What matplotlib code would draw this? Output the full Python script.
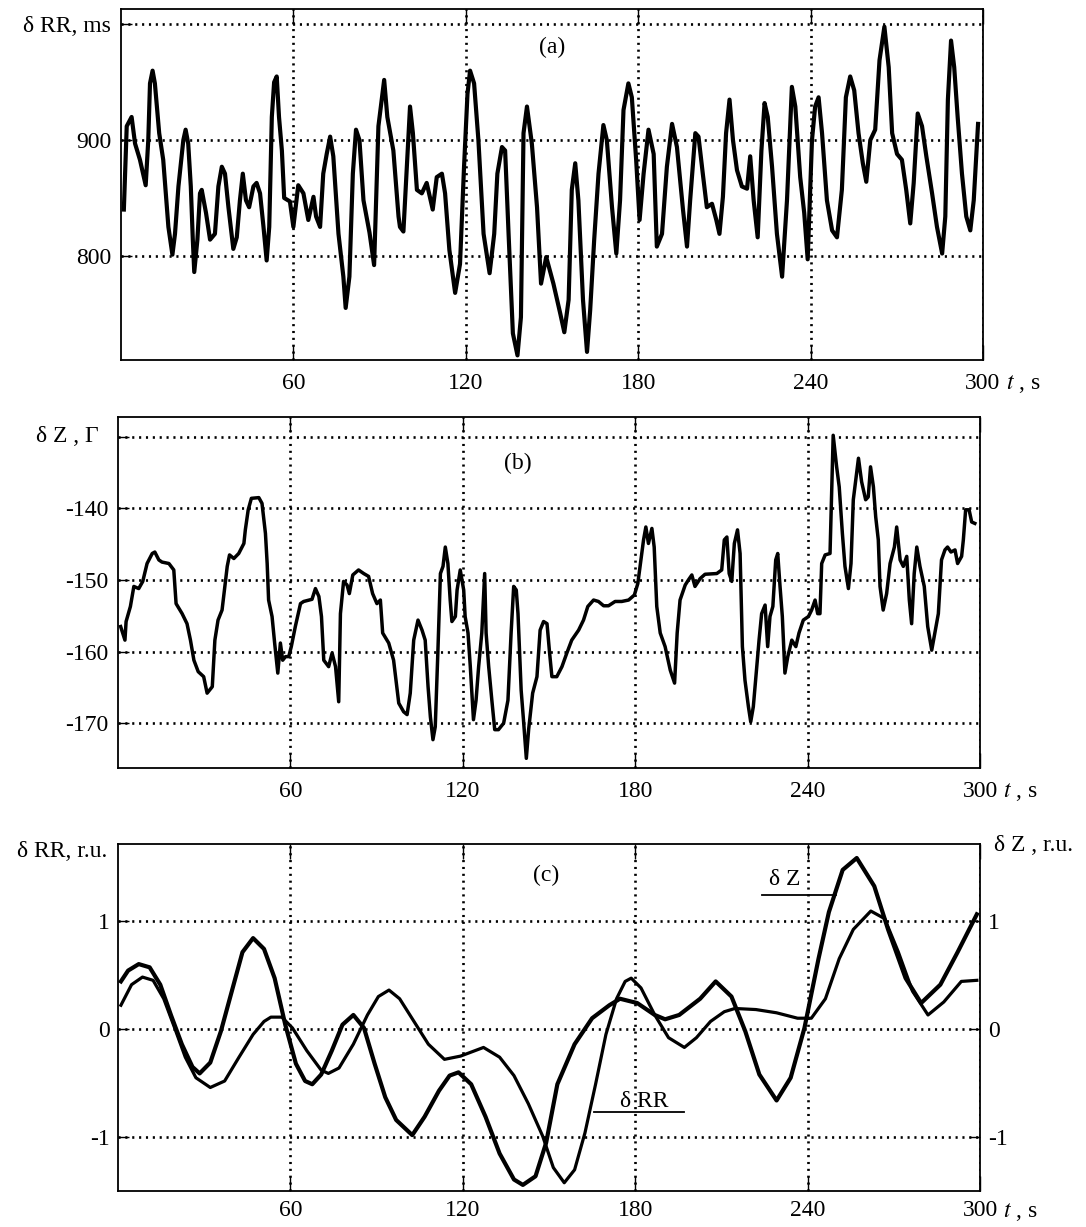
import matplotlib
matplotlib.use('Agg')
import matplotlib.pyplot as plt
import numpy as np

# ---------------------------------------------------------------- data
# (a) RR intervals, ms
rr_t = [1.0, 2.0, 3.7, 4.9, 6.6, 8.6, 9.5, 10.1, 11.0, 11.8, 13.3, 14.7, 16.5, 17.9, 18.8, 20.0, 21.7, 22.5,
        23.4, 24.3, 25.0, 25.5, 26.6, 27.5, 28.1, 29.6, 31.0, 32.7, 33.9, 35.1, 36.2, 37.4, 39.1, 40.3, 41.4,
        42.4, 43.5, 44.6, 46.1, 47.2, 48.4, 49.6, 50.7, 51.6, 52.5, 53.3, 54.2, 55.0, 56.0, 56.8, 58.8, 60.0,
        61.7, 63.5, 65.2, 67.0, 67.9, 69.3, 70.4, 71.6, 72.8, 73.9, 75.7, 77.4, 78.2, 79.5, 80.7, 81.8, 83.0,
        84.4, 86.5, 88.1, 89.6, 91.6, 92.7, 94.8, 96.6, 97.1, 98.3, 99.5, 100.6, 101.6, 103.0, 104.7, 106.4,
        108.5, 109.9, 111.7, 112.8, 114.3, 116.3, 118.0, 119.4, 120.6, 121.5, 122.9, 124.4, 126.2, 128.3,
        129.9, 131.0, 132.6, 133.7, 134.9, 136.4, 138.0, 139.2, 140.1, 141.3, 143.0, 144.8, 146.2, 148.0,
        150.5, 152.9, 154.3, 155.8, 156.9, 158.1, 159.2, 160.8, 162.2, 163.3, 164.7, 166.2, 167.9, 169.1,
        170.9, 172.4, 173.7, 174.9, 176.6, 177.8, 179.3, 180.5, 181.9, 183.6, 185.4, 186.5, 188.3, 190.0,
        191.8, 193.5, 195.6, 197.0, 198.1, 199.9, 201.0, 202.5, 203.9, 205.7, 207.2, 208.3, 209.5, 210.6,
        211.8, 213.0, 214.4, 216.1, 217.9, 219.0, 220.2, 221.6, 222.9, 224.0, 225.1, 226.6, 228.3, 230.1,
        231.8, 233.5, 234.7, 236.4, 237.8, 239.0, 240.5, 241.6, 242.8, 244.0, 245.7, 247.5, 249.2, 250.9,
        252.3, 253.8, 255.2, 256.7, 258.2, 259.4, 260.8, 262.5, 264.0, 265.7, 267.2, 268.4, 270.1, 271.8,
        273.3, 274.7, 275.9, 277.3, 278.8, 280.3, 282.3, 284.0, 285.8, 286.9, 287.8, 288.9, 290.0, 291.2,
        292.7, 294.2, 295.6, 296.8, 298.3]
rr_v = [840, 912, 920, 897, 883, 861, 900, 949, 960, 949, 906, 883, 825, 801, 819, 860, 900, 909,
        897, 860, 814, 786, 814, 854, 857, 837, 814, 819, 860, 877, 871, 842, 806, 816, 848,
        871, 848, 842, 860, 863, 854, 825, 796, 825, 920, 950, 955, 920, 891, 850, 847, 825,
        861, 854, 831, 851, 834, 825, 871, 888, 903, 886, 819, 782, 755, 782, 871, 909, 900,
        848, 820, 792, 912, 952, 920, 891, 834, 825, 821, 877, 929, 906, 857, 854, 863,
        840, 868, 871, 854, 805, 768, 793, 877, 940, 960, 949, 900, 819, 785,
        819, 871, 894, 891, 819, 733, 714, 747, 906, 929, 897, 842, 776, 799,
        776, 750, 734, 762, 857, 880, 848, 762, 717, 753, 814, 871, 913, 900,
        842, 802, 848, 926, 949, 937, 883, 831, 871, 909, 888, 808, 819, 877,
        914, 894, 840, 808, 848, 906, 903, 871, 842, 845, 831, 819, 851, 906,
        935, 900, 874, 860, 858, 886, 848, 816, 891, 932, 920, 877, 819, 782,
        848, 946, 929, 868, 837, 797, 900, 929, 937, 906, 848, 822, 816, 857,
        937, 955, 943, 906, 880, 864, 900, 909, 969, 998, 963, 906, 888, 883,
        857, 828, 863, 923, 912, 886, 854, 825, 802, 834, 935, 986, 963, 920,
        871, 834, 822, 848, 914]

# (b) Z, arbitrary units
z_t = [0.9, 2.4, 2.8, 4.3, 5.5, 7.2, 8.6, 10.1, 11.9, 12.8, 14.2, 15.3, 17.7, 19.4, 20.2, 22.3, 24.0,
       25.2, 26.4, 27.9, 29.8, 31.0, 32.8, 33.7, 34.8, 36.2, 38.0, 38.8, 40.3, 42.0, 43.8, 44.3, 45.3,
       46.4, 49.0, 50.1, 51.3, 51.9, 52.4, 53.6, 54.5, 55.6, 56.5, 57.3, 58.3, 59.4, 60.3, 61.7, 63.5,
       64.6, 67.5, 68.7, 69.9, 70.8, 71.6, 73.3, 74.5, 75.7, 76.8, 77.4, 78.5, 79.7, 80.5, 81.7, 83.7,
       85.5, 87.2, 88.6, 90.1, 91.3, 92.1, 94.2, 95.9, 97.7, 99.4, 100.6, 101.7, 102.9, 104.4, 105.8,
       106.9, 107.9, 108.7, 109.6, 110.4, 111.3, 112.2, 113.1, 113.9, 114.8, 115.6, 116.2, 117.4, 118.0,
       119.1, 120.3, 120.8, 121.8, 122.6, 123.7, 124.6, 125.5, 126.6, 127.6, 128.1, 129.0, 130.1, 131.1,
       132.4, 134.2, 135.7, 136.8, 137.7, 138.6, 139.2, 140.3, 141.1, 142.1, 142.9, 144.3, 145.8, 146.9,
       148.1, 149.3, 150.2, 151.0, 152.7, 154.5, 156.2, 157.9, 160.3, 162.0, 163.5, 165.5, 167.2, 169.0,
       170.7, 173.0, 175.3, 177.7, 179.7, 180.9, 181.7, 182.9, 183.7, 184.6, 185.8, 186.6, 187.5, 188.7,
       190.4, 192.2, 193.7, 194.6, 195.6, 197.4, 198.5, 199.7, 200.8, 202.6, 204.3, 208.4, 210.1, 211.0,
       211.9, 212.7, 213.6, 214.5, 215.6, 216.5, 217.3, 218.2, 219.4, 220.2, 221.1, 222.3, 223.1, 224.0,
       225.2, 226.1, 226.9, 227.9, 228.9, 229.6, 230.4, 231.2, 232.1, 233.1, 234.5, 235.9, 237.0, 238.5,
       240.3, 241.4, 242.6, 243.5, 244.3, 244.9, 246.1, 247.8, 248.6, 248.9, 250.1, 251.0, 252.1, 253.0,
       254.2, 255.1, 255.9, 257.7, 258.8, 260.2, 261.1, 261.9, 262.9, 263.7, 264.6, 265.2, 266.3, 267.5,
       268.7, 270.2, 271.0, 272.2, 273.3, 274.5, 275.4, 276.2, 277.1, 278.0, 279.1, 280.6, 281.8, 283.2,
       284.3, 285.5, 286.6, 287.8, 288.7, 289.9, 291.3, 292.2, 293.6, 294.2, 295.0, 296.2, 297.1, 298.2]
z_v = [-156.5, -158.4, -155.8, -153.7, -150.9, -151.2, -150.2, -147.7, -146.3, -146.1, -147.2, -147.5,
       -147.7, -148.6, -153.3, -154.7, -156.1, -158.4, -161.2, -162.8, -163.5, -165.8, -164.9, -158.4,
       -155.6, -154.2, -148.1, -146.5, -147.0, -146.3, -144.9, -143.0, -140.2, -138.6, -138.5, -139.3,
       -143.5, -147.7, -152.8, -155.1, -158.8, -163.0, -158.8, -161.2, -160.7, -160.7, -159.3, -156.5,
       -153.3, -153.0, -152.7, -151.2, -152.3, -155.1, -161.2, -162.1, -160.2, -162.1, -167.0, -154.7,
       -150.2, -150.7, -151.9, -149.3, -148.6, -149.1, -149.5, -151.9, -153.3, -152.8, -157.4, -158.8,
       -161.2, -167.2, -168.4, -168.8, -165.8, -158.4, -155.6, -157.0, -158.4, -164.9, -169.1, -172.3,
       -170.5, -160.2, -149.1, -148.1, -145.4, -147.7, -152.8, -155.8, -155.1, -151.4, -148.6, -151.4,
       -155.1, -157.4, -162.1, -169.5, -166.8, -162.1, -157.4, -149.1, -157.4, -162.1, -166.8, -170.9,
       -170.9, -170.0, -166.8, -157.4, -150.9, -151.4, -154.7, -165.4, -169.5, -174.9, -170.9, -165.8,
       -163.5, -157.0, -155.8, -156.1, -160.2, -163.5, -163.5, -162.1, -160.2, -158.4, -157.0, -155.6,
       -153.7, -152.8, -153.0, -153.6, -153.6, -153.0, -153.0, -152.8, -152.1, -150.5, -148.1, -144.4,
       -142.6, -144.9, -142.8, -145.4, -153.7, -157.4, -159.3, -162.6, -164.4, -157.4, -152.8, -150.7,
       -150.0, -149.3, -150.9, -149.8, -149.2, -149.1, -148.6, -144.4, -144.0, -149.1, -150.2, -144.9,
       -143.0, -146.3, -159.3, -164.0, -167.7, -169.8, -167.7, -162.1, -158.4, -154.7, -153.5, -159.3,
       -155.1, -153.7, -147.2, -146.3, -150.9, -155.1, -163.0, -160.7, -158.4, -159.3, -157.4, -155.6,
       -155.1, -154.2, -152.8, -154.7, -154.7, -147.7, -146.5, -146.3, -134.2, -129.8, -134.2, -137.0,
       -143.5, -148.1, -151.2, -147.7, -138.8, -133.0, -136.3, -138.8, -138.4, -134.2, -137.0, -141.2,
       -144.4, -150.9, -154.2, -151.9, -147.7, -145.4, -142.6, -147.2, -148.1, -146.7, -152.8, -156.1,
       -149.1, -145.4, -148.1, -150.9, -156.5, -159.8, -157.4, -154.7, -147.2, -145.8, -145.4, -146.1,
       -145.8, -147.7, -146.7, -144.4, -140.2, -140.2, -141.9, -142.1]

# (c) normalized, relative units
dz_t = [1.0, 3.5, 7.2, 11.0, 14.7, 18.4, 22.2, 25.9, 28.4, 32.1, 35.8, 39.6, 43.3, 47.0, 50.8, 54.5,
        58.2, 61.9, 65.1, 67.6, 70.7, 74.4, 78.1, 81.9, 85.6, 89.3, 93.0, 96.8, 102.4, 106.7, 111.7,
        115.4, 118.5, 122.9, 127.9, 132.8, 137.8, 140.9, 145.3, 149.0, 152.9, 158.9, 165.0, 171.0, 174.7,
        180.7, 186.8, 190.4, 195.3, 202.6, 208.0, 213.5, 218.3, 223.2, 229.2, 234.1, 238.9, 243.8, 247.4,
        252.2, 257.1, 263.2, 268.0, 274.1, 279.5, 286.2, 292.2, 298.9]
dz_v = [0.44, 0.54, 0.60, 0.57, 0.41, 0.13, -0.14, -0.35, -0.41, -0.31, -0.02, 0.35, 0.71, 0.84, 0.74,
        0.47, 0.04, -0.32, -0.48, -0.51, -0.42, -0.20, 0.04, 0.13, 0.01, -0.32, -0.63, -0.84, -0.98, -0.81,
        -0.57, -0.43, -0.40, -0.51, -0.81, -1.15, -1.39, -1.44, -1.36, -1.05, -0.51, -0.14, 0.10, 0.22,
        0.28, 0.24, 0.13, 0.09, 0.13, 0.28, 0.44, 0.30, -0.02, -0.42, -0.66, -0.45, 0.01, 0.65, 1.08, 1.47,
        1.58, 1.32, 0.92, 0.47, 0.24, 0.41, 0.71, 1.06]
drr_t = [1.0, 4.7, 8.5, 12.2, 15.9, 19.7, 23.4, 27.1, 32.1, 37.1, 42.1, 47.0, 50.8, 53.2, 57.0, 60.7,
         65.7, 70.7, 73.2, 76.9, 81.9, 86.8, 90.6, 94.3, 98.0, 103.0, 108.0, 113.6, 119.2, 127.2, 132.8,
         137.8, 142.8, 147.8, 151.5, 155.3, 158.9, 162.5, 166.2, 169.8, 173.5, 176.5, 178.6, 182.0, 186.8,
         191.6, 197.1, 201.3, 206.2, 211.0, 214.7, 222.0, 229.2, 236.5, 241.3, 246.2, 251.0, 255.9, 262.0,
         266.8, 271.6, 276.5, 281.9, 287.4, 293.5, 298.9]
drr_v = [0.22, 0.41, 0.48, 0.45, 0.28, 0.01, -0.26, -0.45, -0.54, -0.48, -0.26, -0.05, 0.07, 0.11, 0.11,
         0.01, -0.20, -0.38, -0.41, -0.36, -0.14, 0.13, 0.30, 0.36, 0.28, 0.07, -0.14, -0.28, -0.25, -0.17,
         -0.26, -0.43, -0.69, -0.99, -1.28, -1.42, -1.30, -0.96, -0.51, -0.05, 0.28, 0.44, 0.47, 0.38, 0.13,
         -0.08, -0.17, -0.08, 0.07, 0.16, 0.19, 0.18, 0.15, 0.10, 0.10, 0.28, 0.65, 0.92, 1.09, 1.02, 0.71,
         0.35, 0.13, 0.25, 0.44, 0.45]

x_ticks = [60, 120, 180, 240, 300]
x_labels = ['60', '120', '180', '240', '300']

# ----------------------------------------------------------------------------------------------------------------------
plt.rcParams.update({
    "font.family": "Liberation Serif",
    "font.size": 17,
    "mathtext.fontset": "stix",
})

fig = plt.figure(figsize=(10.86, 12.27), dpi=100)
ax_a = fig.add_axes([0.1114, 0.7066, 0.7937, 0.2858])
ax_b = fig.add_axes([0.1087, 0.3738, 0.7937, 0.2866])
ax_c = fig.add_axes([0.1087, 0.0290, 0.7937, 0.2832])

grid_style = dict(color='black', linestyle=(0, (0.8, 1.8)), linewidth=1.9)


def style_axes(ax, yticks, ylabels, ylim, xpad=9, ts_y=-0.037):
    for spine in ax.spines.values():
        spine.set_linewidth(1.3)
    ax.set_xlim(0, 300)
    ax.set_ylim(*ylim)
    ax.set_xticks(x_ticks)
    ax.set_xticklabels(x_labels)
    ax.set_yticks(yticks)
    ax.set_yticklabels(ylabels)
    ax.tick_params(axis='x', direction='in', top=True, length=11, width=1, pad=xpad)
    ax.tick_params(axis='y', direction='in', length=8, width=1, pad=7)
    ax.grid(True, **grid_style)
    ax.set_axisbelow(True)
    ax.text(1.027, ts_y, r'$t$ , s', transform=ax.transAxes, ha='left', va='top', fontsize=17)


# (a)
ax_a.plot(rr_t, rr_v, color='black', linewidth=3.0)
style_axes(ax_a, [800, 900, 1000], ['800', '900', 'δ RR, ms'], (710, 1013))
ax_a.text(0.5, 0.89, '(a)', transform=ax_a.transAxes, ha='center', va='center')

# (b)
ax_b.plot(z_t, z_v, color='black', linewidth=2.5)
style_axes(ax_b, [-170, -160, -150, -140, -130], ['-170', '-160', '-150', '-140', ''], (-176.3, -127.2))
ax_b.text(-0.023, -130, 'δ Z , Γ', transform=ax_b.get_yaxis_transform(), ha='right', va='center')
ax_b.text(0.464, 0.866, '(b)', transform=ax_b.transAxes, ha='center', va='center')

# (c)
ax_c.plot(dz_t, dz_v, color='black', linewidth=3.0)
ax_c.plot(drr_t, drr_v, color='black', linewidth=2.3)
style_axes(ax_c, [-1, 0, 1], ['-1', '0', '1'], (-1.50, 1.71), xpad=6, ts_y=-0.028)
ax_c.tick_params(axis='y', right=True, labelright=True, pad=6)
ax_c.text(-0.013, 1.64, 'δ RR, r.u.', transform=ax_c.get_yaxis_transform(), ha='right', va='center')
ax_c.text(1.016, 1.70, 'δ Z , r.u.', transform=ax_c.get_yaxis_transform(), ha='left', va='center')
ax_c.text(0.497, 0.909, '(c)', transform=ax_c.transAxes, ha='center', va='center')
# curve annotations with short leader lines
ax_c.text(232, 1.385, 'δ Z', ha='center', va='center')
ax_c.plot([224, 250], [1.24, 1.24], color='black', linewidth=1.3)
ax_c.text(183, -0.67, 'δ RR', ha='center', va='center')
ax_c.plot([165.6, 197.1], [-0.77, -0.77], color='black', linewidth=1.3)

fig.savefig('out.png', dpi=100)
